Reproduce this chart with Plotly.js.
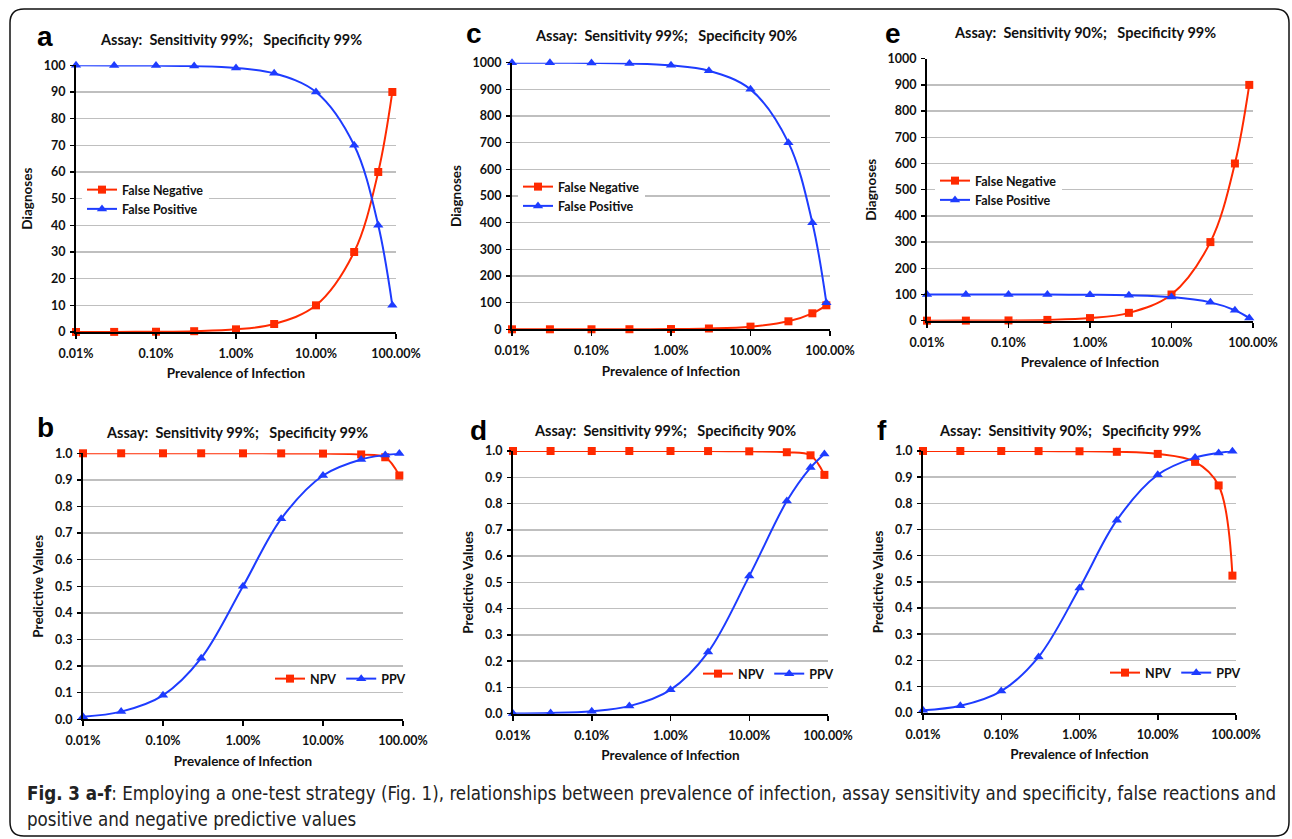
<!DOCTYPE html>
<html><head><meta charset="utf-8">
<script src="https://cdn.plot.ly/plotly-3.0.1.min.js"></script>
<style>body{margin:0;background:#fff}#chart{width:1292px;height:839px}</style>
</head><body><div id="chart"></div>
<script>
// ---- data ----
const prevalence = [0.01, 0.03, 0.1, 0.3, 1, 3, 10, 30, 60, 90]; // percent
const xTickVals = [0.01, 0.1, 1, 10, 100];
const xTickText = ['0.01%', '0.10%', '1.00%', '10.00%', '100.00%'];

const aFalseNeg = [0.01, 0.03, 0.1, 0.3, 1, 3, 10, 30, 60, 90];
const aFalsePos = [99.99, 99.97, 99.9, 99.7, 99, 97, 90, 70, 40, 10];
const cFalseNeg = [0.01, 0.03, 0.1, 0.3, 1, 3, 10, 30, 60, 90];
const cFalsePos = [999.9, 999.7, 999, 997, 990, 970, 900, 700, 400, 100];
const eFalseNeg = [0.1, 0.3, 1, 3, 10, 30, 100, 300, 600, 900];
const eFalsePos = [99.99, 99.97, 99.9, 99.7, 99, 97, 90, 70, 40, 10];

const bNPV = [1.0, 1.0, 1.0, 1.0, 0.9999, 0.9997, 0.9989, 0.9957, 0.9851, 0.9167];
const bPPV = [0.0098, 0.0289, 0.0902, 0.2296, 0.5, 0.7538, 0.9167, 0.977, 0.9933, 0.9988];
const dNPV = [1.0, 1.0, 1.0, 1.0, 0.9999, 0.9997, 0.9988, 0.9953, 0.9836, 0.9091];
const dPPV = [0.001, 0.003, 0.0098, 0.0289, 0.0909, 0.2344, 0.5238, 0.8093, 0.9369, 0.9889];
const fNPV = [1.0, 1.0, 0.9999, 0.9997, 0.999, 0.9969, 0.9889, 0.9585, 0.8684, 0.5238];
const fPPV = [0.0089, 0.0263, 0.0826, 0.2131, 0.4762, 0.7357, 0.9091, 0.9747, 0.9926, 0.9988];

const panelLetters = ['a', 'b', 'c', 'd', 'e', 'f'];
const panelTitles = [
  'Assay:  Sensitivity 99%;   Specificity 99%',
  'Assay:  Sensitivity 99%;   Specificity 99%',
  'Assay:  Sensitivity 99%;   Specificity 90%',
  'Assay:  Sensitivity 99%;   Specificity 90%',
  'Assay:  Sensitivity 90%;   Specificity 99%',
  'Assay:  Sensitivity 90%;   Specificity 99%'
];
const xTitle = 'Prevalence of Infection';
const yTitles = ['Diagnoses', 'Predictive Values', 'Diagnoses', 'Predictive Values', 'Diagnoses', 'Predictive Values'];
const seriesNames = [['False Negative', 'False Positive'], ['NPV', 'PPV'], ['False Negative', 'False Positive'], ['NPV', 'PPV'], ['False Negative', 'False Positive'], ['NPV', 'PPV']];
const seriesValues = [[aFalseNeg, aFalsePos], [bNPV, bPPV], [cFalseNeg, cFalsePos], [dNPV, dPPV], [eFalseNeg, eFalsePos], [fNPV, fPPV]];
const captionLine1 = '<b>Fig. 3 a-f</b>: Employing a one-test strategy (Fig. 1), relationships between prevalence of infection, assay sensitivity and specificity, false reactions and';
const captionLine2 = 'positive and negative predictive values';

// ---- layout geometry (pixels) ----
const W = 1292, H = 839;
const X = p => p / W, Y = p => 1 - p / H;
const geo = [
  {box: [76, 396, 65.3, 332], yr: [0, 100], dt: 10, letter: [45, 37], title: [231, 40], legend: [82, 175], horiz: false},
  {box: [83, 403, 453.3, 719.3], yr: [0, 1], dt: 0.1, letter: [45, 427], title: [237, 432], legend: [270, 664], horiz: true},
  {box: [512, 830, 62.7, 329.3], yr: [0, 1000], dt: 100, letter: [474, 34], title: [666, 36], legend: [518, 172], horiz: false},
  {box: [513, 828, 451, 713.7], yr: [0, 1], dt: 0.1, letter: [478, 430], title: [665, 430], legend: [698, 659], horiz: true},
  {box: [927, 1253, 58.7, 320.7], yr: [0, 1000], dt: 100, letter: [893, 34], title: [1085, 33], legend: [935, 166], horiz: false},
  {box: [923, 1236, 451, 712.7], yr: [0, 1], dt: 0.1, letter: [882, 430], title: [1070, 430], legend: [1105, 658], horiz: true}
];

const RED = '#FF2A00', BLUE = '#1E3CFF';
const FONT = 'Lato, Carlito, "Open Sans", sans-serif';
const tickFont = {family: FONT, size: 12.5, weight: 700, color: '#111'};
const titleFont = {family: FONT, size: 13.5, weight: 700, color: '#111'};

const traces = [];
const layout = {
  width: W, height: H, margin: {l: 0, r: 0, t: 0, b: 0},
  paper_bgcolor: '#fff', plot_bgcolor: 'rgba(0,0,0,0)',
  showlegend: true, annotations: [], shapes: []
};

geo.forEach((g, i) => {
  const n = i + 1;
  const xa = n === 1 ? 'x' : 'x' + n, ya = n === 1 ? 'y' : 'y' + n;
  const xk = n === 1 ? 'xaxis' : 'xaxis' + n, yk = n === 1 ? 'yaxis' : 'yaxis' + n;
  const lk = n === 1 ? 'legend' : 'legend' + n;
  [0, 1].forEach(s => {
    traces.push({
      type: 'scatter', mode: 'lines+markers', x: prevalence, y: seriesValues[i][s],
      name: seriesNames[i][s], xaxis: xa, yaxis: ya, legend: lk, cliponaxis: false,
      line: {color: s === 0 ? RED : BLUE, width: 2, shape: 'spline', smoothing: 1},
      marker: {symbol: s === 0 ? 'square' : 'triangle-up', size: s === 0 ? 8 : 9, color: s === 0 ? RED : BLUE}
    });
  });
  layout[xk] = {
    domain: [X(g.box[0]), X(g.box[1])], anchor: ya, type: 'log', range: [-2, 2],
    tickvals: xTickVals, ticktext: xTickText, showgrid: false, zeroline: false,
    showline: true, linecolor: '#000', linewidth: 2, ticks: 'outside', ticklen: 5, tickwidth: 1.5, tickcolor: '#000',
    ticklabelstandoff: 4,
    tickfont: tickFont, title: {text: xTitle, font: titleFont, standoff: 9}, fixedrange: true
  };
  layout[yk] = {
    domain: [Y(g.box[3]), Y(g.box[2])], anchor: xa, range: g.yr, dtick: g.dt,
    tickformat: g.dt < 1 ? '.1f' : 'd', showgrid: true, gridcolor: '#bfbfbf', gridwidth: 1.5, zeroline: false,
    showline: true, linecolor: '#000', linewidth: 2, ticks: 'outside', ticklen: 4, tickwidth: 1.5, tickcolor: '#000',
    ticklabelstandoff: 2,
    tickfont: tickFont, title: {text: yTitles[i], font: titleFont, standoff: 8}, fixedrange: true
  };
  layout[lk] = {
    x: X(g.legend[0]), y: Y(g.legend[1]), xanchor: 'left', yanchor: 'top',
    orientation: g.horiz ? 'h' : 'v', bgcolor: g.horiz ? 'rgba(0,0,0,0)' : '#fff', borderwidth: 0,
    font: {family: FONT, size: 12.5, weight: 700, color: '#111'}, itemwidth: 30, tracegroupgap: 0
  };
  layout.annotations.push({
    text: panelLetters[i], x: X(g.letter[0]), y: Y(g.letter[1]), xref: 'paper', yref: 'paper',
    xanchor: 'center', yanchor: 'middle', showarrow: false,
    font: {family: 'Liberation Sans, Arial, sans-serif', size: 28, weight: 700, color: '#000'}
  });
  layout.annotations.push({
    text: panelTitles[i], x: X(g.title[0]), y: Y(g.title[1]), xref: 'paper', yref: 'paper',
    xanchor: 'center', yanchor: 'middle', showarrow: false,
    font: {family: FONT, size: 14.5, weight: 700, color: '#111'}
  });
});

// caption
const capFont = {family: '"Liberation Sans Narrow", "DejaVu Sans Condensed", sans-serif', size: 18.6, color: '#222'};
layout.annotations.push({text: captionLine1, x: X(25), y: Y(793), xref: 'paper', yref: 'paper', xanchor: 'left', yanchor: 'middle', showarrow: false, font: capFont});
layout.annotations.push({text: captionLine2, x: X(25), y: Y(819), xref: 'paper', yref: 'paper', xanchor: 'left', yanchor: 'middle', showarrow: false, font: capFont});

// rounded border
(function () {
  const x0 = 10, x1 = 1289, y0 = 9, y1 = 836, r = 14;
  const P = (a, b) => X(a).toFixed(5) + ',' + Y(b).toFixed(5);
  const path = 'M' + P(x0 + r, y0) + ' L' + P(x1 - r, y0) + ' Q' + P(x1, y0) + ' ' + P(x1, y0 + r) +
    ' L' + P(x1, y1 - r) + ' Q' + P(x1, y1) + ' ' + P(x1 - r, y1) + ' L' + P(x0 + r, y1) +
    ' Q' + P(x0, y1) + ' ' + P(x0, y1 - r) + ' L' + P(x0, y0 + r) + ' Q' + P(x0, y0) + ' ' + P(x0 + r, y0) + ' Z';
  layout.shapes.push({type: 'path', xref: 'paper', yref: 'paper', path: path, line: {color: '#111', width: 1.5}, layer: 'below'});
})();

Plotly.newPlot('chart', traces, layout, {displayModeBar: false, staticPlot: true});
</script></body></html>
